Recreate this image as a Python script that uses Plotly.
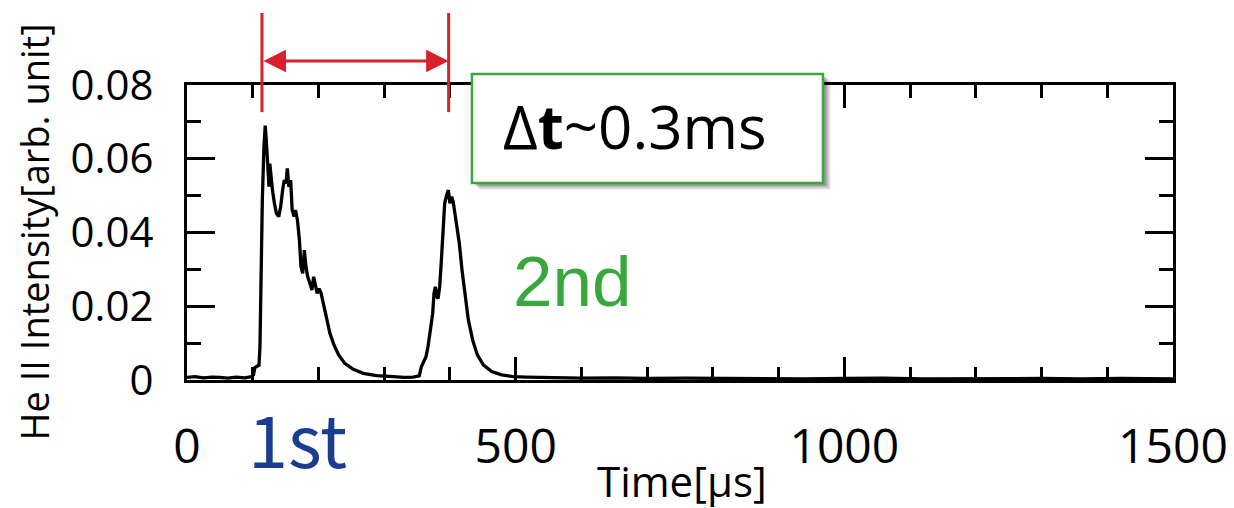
import plotly.graph_objects as go

# ---- data ----
time_us = [0, 12, 25, 38, 50, 62, 75, 88, 98, 101, 103.4, 109.5, 111, 112.6, 114.6, 117, 119,
           121, 123, 124.7, 126, 128, 130, 133, 136, 139.5, 142.5, 145.5, 148, 150.6, 152.6,
           155, 157.7, 160, 162.8, 165, 168, 171, 173.4, 176, 178.5, 181, 183.6, 187, 190,
           192.7, 195, 198, 201, 204, 207.4, 212.5, 217.5, 223.6, 230.7, 240, 253, 268,
           288.5, 314, 330, 344, 353.4, 356.5, 359.5, 363.6, 366.6, 368.7, 371, 373.7, 375.8,
           377.8, 380, 382, 384.4, 387, 389.5, 392, 395, 397.6, 400, 402.6, 405, 407.7, 410,
           414.3, 418.4, 423, 428, 434.6, 441.7, 450.8, 463.5, 478.7, 496.5, 516.7, 560,
           600, 650, 700, 760, 820, 880, 940, 1000, 1060, 1120, 1180, 1240, 1300, 1360,
           1420, 1500]
intensity = [0.0007, 0.0009, 0.0006, 0.0008, 0.0007, 0.0005, 0.0008, 0.0006, 0.0009, 0.0014,
             0.0034, 0.0040, 0.0090, 0.0343, 0.0488, 0.0630, 0.0690, 0.0640, 0.0578, 0.0524,
             0.0587, 0.0542, 0.0515, 0.0479, 0.0452, 0.0443, 0.0470, 0.0515, 0.0542, 0.0533,
             0.0574, 0.0524, 0.0542, 0.0461, 0.0443, 0.0461, 0.0434, 0.0380, 0.0307, 0.0289,
             0.0352, 0.0307, 0.0280, 0.0262, 0.0244, 0.0280, 0.0262, 0.0235, 0.0248, 0.0235,
             0.0208, 0.0163, 0.0126, 0.0095, 0.0068, 0.0045, 0.0029, 0.0018, 0.0012, 0.0009,
             0.0007, 0.0008, 0.0011, 0.0036, 0.0047, 0.0063, 0.0090, 0.0126, 0.0145, 0.0180,
             0.0235, 0.0253, 0.0226, 0.0221, 0.0253, 0.0325, 0.0416, 0.0479, 0.0501, 0.0515,
             0.0479, 0.0497, 0.0483, 0.0452, 0.0434, 0.0370, 0.0298, 0.0226, 0.0163, 0.0108,
             0.0068, 0.0041, 0.0023, 0.0014, 0.0009, 0.0008, 0.0006, 0.0005, 0.0006, 0.0004,
             0.0005, 0.0004, 0.0005, 0.0003, 0.0004, 0.0005, 0.0003, 0.0004, 0.0003, 0.0004,
             0.0003, 0.0004, 0.0003]

x_tick_vals = [0, 500, 1000, 1500]
x_tick_text = ["0", "500", "1000", "1500"]
y_tick_vals = [0, 0.02, 0.04, 0.06, 0.08]
y_tick_text = ["0", "0.02", "0.04", "0.06", "0.08"]

first_peak_t = 114
second_peak_t = 398

RED = "#d7202c"
GREEN = "#38a83d"
BLUE = "#1b3d8f"
FONT = "Open Sans"

fig = go.Figure()
fig.add_trace(go.Scatter(x=time_us, y=intensity, mode="lines",
                         line=dict(color="black", width=3.3), showlegend=False,
                         hoverinfo="skip"))

# the page body has an 8px default margin, so the figure is 8px smaller
fig.update_layout(
    width=1226, height=500,
    margin=dict(l=179, r=61, t=77, b=128, autoexpand=False),
    plot_bgcolor="white", paper_bgcolor="white",
    font=dict(family=FONT, color="black"),
    showlegend=False,
)
fig.update_xaxes(
    range=[0, 1500], tickvals=x_tick_vals, ticktext=x_tick_text,
    ticks="inside", ticklen=23, tickwidth=3, tickcolor="black",
    minor=dict(dtick=100, ticks="inside", ticklen=13, tickwidth=3, tickcolor="black"),
    showline=True, linewidth=3, linecolor="black", mirror="ticks",
    showgrid=False, zeroline=False, automargin=False,
    tickfont=dict(family=FONT, size=48, color="black"),
    ticklabelstandoff=22,
)
fig.update_yaxes(
    range=[0, 0.08], tickvals=y_tick_vals, ticktext=y_tick_text,
    ticks="inside", ticklen=28, tickwidth=3, tickcolor="black",
    minor=dict(dtick=0.01, ticks="inside", ticklen=14, tickwidth=3, tickcolor="black"),
    showline=True, linewidth=3, linecolor="black", mirror="ticks",
    showgrid=False, zeroline=False, automargin=False,
    tickfont=dict(family=FONT, size=42, color="black"),
    ticklabelstandoff=22,
)

# axis titles
fig.add_annotation(text="He II Intensity[arb. unit]", xref="paper", yref="paper",
                   x=0, y=0.5, xshift=-154, textangle=-90, showarrow=False,
                   xanchor="center", yanchor="middle",
                   font=dict(family=FONT, size=38, color="black"))
fig.add_annotation(text="Time[µs]", xref="paper", yref="paper",
                   x=0.502, y=0, yshift=-100, showarrow=False,
                   xanchor="center", yanchor="middle",
                   font=dict(family=FONT, size=42, color="black"))

# red markers + double arrow
for t in (first_peak_t, second_peak_t):
    fig.add_shape(type="line", xref="x", yref="paper", x0=t, x1=t, y0=0.908, y1=1.244,
                  line=dict(color=RED, width=3), layer="above")
fig.add_annotation(x=second_peak_t, y=1.081, xref="x", yref="paper",
                   ax=first_peak_t, ay=0, axref="x", ayref="pixel", text="",
                   showarrow=True, arrowside="end+start", arrowhead=2, arrowsize=1.5,
                   arrowwidth=3, arrowcolor=RED)

# box with shadow
bx0, bx1, by0, by1 = 0.2890, 0.6450, 0.6678, 1.0373
for dx, dy, op in [(0.0075, -0.022, 0.12), (0.0055, -0.016, 0.15), (0.0035, -0.010, 0.2)]:
    fig.add_shape(type="rect", xref="paper", yref="paper",
                  x0=bx0 + dx, x1=bx1 + dx, y0=by0 + dy, y1=by1 + dy,
                  line=dict(width=0), fillcolor=f"rgba(0,0,0,{op})", layer="above")
fig.add_shape(type="rect", xref="paper", yref="paper", x0=bx0, x1=bx1, y0=by0, y1=by1,
              line=dict(color=GREEN, width=2.5), fillcolor="white", layer="above")
fig.add_annotation(text="Δ<b>t</b>~0.3ms", xref="paper", yref="paper",
                   x=(bx0 + bx1) / 2, y=(by0 + by1) / 2, xshift=-12, yshift=2,
                   showarrow=False, xanchor="center", yanchor="middle",
                   font=dict(family=FONT, size=60, color="black"))

# labels
fig.add_annotation(text="2nd", xref="x", yref="y", x=586, y=0.0266, showarrow=False,
                   xanchor="center", yanchor="middle",
                   font=dict(family="Liberation Sans", size=71, color=GREEN))
fig.add_annotation(text="1st", xref="paper", yref="paper", x=0.1116, y=-0.19,
                   showarrow=False, xanchor="center", yanchor="middle",
                   font=dict(family="Noto Sans CJK JP", size=72, color=BLUE))

fig.write_html("out.html")
